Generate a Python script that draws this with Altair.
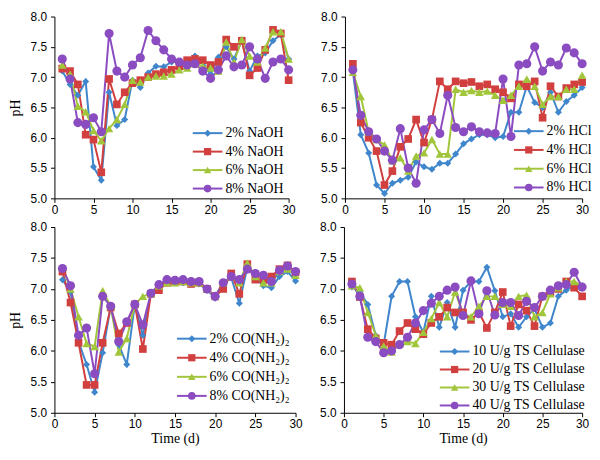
import altair as alt
import pandas as pd

days = list(range(1, 31))

# Panel 1: NaOH
naoh_names = ["2% NaOH", "4% NaOH", "6% NaOH", "8% NaOH"]
naoh_2 = [7.10, 6.88, 6.70, 6.93, 5.52, 5.30, 6.75, 6.20, 6.30, 6.95, 6.83, 7.07, 7.18, 7.17, 7.25,
          7.25, 7.25, 7.35, 7.25, 7.05, 7.33, 7.50, 7.30, 7.60, 7.10, 7.35, 7.40, 7.60, 7.70, 7.30]
naoh_4 = [7.14, 7.10, 6.88, 6.05, 5.97, 5.43, 6.97, 6.55, 6.75, 6.90, 6.95, 7.00, 7.05, 7.08, 7.12,
          7.18, 7.28, 7.30, 7.28, 7.20, 7.25, 7.62, 7.50, 7.60, 7.03, 7.15, 7.45, 7.78, 7.72, 6.95]
naoh_6 = [7.20, 7.05, 6.52, 6.43, 6.12, 5.95, 6.15, 6.30, 6.55, 6.95, 6.92, 7.00, 7.02, 7.02, 7.05,
          7.12, 7.15, 7.22, 7.18, 7.15, 7.10, 7.58, 7.25, 7.62, 7.35, 7.25, 7.48, 7.75, 7.75, 7.30]
naoh_8 = [7.30, 6.97, 6.25, 6.22, 6.33, 6.10, 7.72, 7.10, 7.00, 7.20, 7.32, 7.77, 7.60, 7.45, 7.30,
          7.25, 7.20, 7.22, 7.10, 6.98, 7.12, 7.35, 7.17, 7.20, 7.50, 7.30, 6.98, 7.25, 7.30, 7.12]

# Panel 2: HCl
hcl_names = ["2% HCl", "4% HCl", "6% HCl", "8% HCl"]
hcl_2 = [7.10, 6.05, 5.75, 5.22, 5.08, 5.25, 5.30, 5.35, 5.60, 5.52, 5.48, 5.58, 5.58, 5.73, 5.90,
         5.98, 6.05, 6.05, 6.00, 6.02, 6.42, 6.42, 6.85, 6.58, 6.50, 6.75, 6.42, 6.60, 6.70, 6.83]
hcl_4 = [7.22, 6.25, 6.00, 5.78, 5.22, 5.45, 5.85, 5.98, 6.30, 5.92, 6.30, 6.93, 6.80, 6.93, 6.90,
         6.92, 6.85, 6.88, 6.80, 6.75, 6.65, 6.88, 6.85, 6.93, 6.33, 6.85, 6.68, 6.82, 6.88, 6.92]
hcl_6 = [7.08, 6.68, 6.10, 5.97, 5.88, 5.62, 5.67, 5.45, 5.70, 5.75, 5.97, 5.73, 5.73, 6.80, 6.75,
         6.78, 6.75, 6.77, 6.70, 6.62, 6.70, 6.85, 6.97, 6.85, 6.55, 6.68, 6.68, 6.80, 6.80, 7.03]
hcl_8 = [7.12, 6.37, 6.10, 5.98, 5.78, 5.63, 6.15, 5.50, 5.25, 6.13, 6.30, 6.07, 6.70, 6.17, 6.10,
         6.18, 6.10, 6.08, 6.07, 6.97, 6.02, 7.20, 7.22, 7.50, 7.10, 7.25, 7.20, 7.48, 7.40, 7.22]

# Panel 3: urea
urea_names = ["2% CO(NH₂)₂", "4% CO(NH₂)₂", "6% CO(NH₂)₂", "8% CO(NH₂)₂"]
urea_2 = [7.15, 6.95, 6.15, 5.78, 5.33, 5.97, 6.72, 6.10, 5.78, 6.75, 6.25, 6.92, 7.05, 7.10, 7.10,
          7.10, 7.08, 7.08, 6.98, 6.85, 7.08, 7.18, 6.77, 7.35, 7.18, 7.05, 7.02, 7.20, 7.28, 7.13]
urea_4 = [7.28, 6.78, 6.13, 5.45, 5.45, 6.13, 6.70, 6.28, 6.45, 6.75, 6.03, 6.92, 6.98, 7.10, 7.12,
          7.12, 7.08, 7.10, 7.00, 6.88, 7.00, 7.25, 6.92, 7.40, 7.15, 7.15, 7.20, 7.32, 7.38, 7.27]
urea_6 = [7.35, 7.00, 6.55, 6.12, 6.07, 6.97, 6.72, 5.98, 6.20, 6.75, 6.88, 6.92, 7.05, 7.10, 7.10,
          7.12, 7.10, 7.10, 7.00, 6.88, 7.10, 7.20, 7.10, 7.42, 7.20, 7.10, 7.10, 7.28, 7.32, 7.22]
urea_8 = [7.33, 7.05, 6.25, 6.37, 5.63, 6.88, 6.72, 6.15, 6.47, 6.75, 6.42, 6.93, 7.07, 7.15, 7.14,
          7.15, 7.12, 7.12, 7.00, 6.88, 7.10, 7.20, 7.15, 7.32, 7.25, 7.22, 7.12, 7.30, 7.37, 7.28]

# Panel 4: cellulase
cell_names = ["10 U/g TS Cellulase", "20 U/g TS Cellulase", "30 U/g TS Cellulase", "40 U/g TS Cellulase"]
cell_10 = [7.03, 6.95, 6.75, 6.25, 6.10, 6.88, 7.12, 7.12, 6.55, 6.30, 6.88, 6.38, 6.78, 6.38, 6.98,
           7.12, 7.12, 7.35, 6.97, 6.55, 6.60, 6.38, 6.55, 6.68, 6.38, 6.45, 6.88, 6.98, 7.05, 7.05]
cell_20 = [7.12, 6.87, 6.35, 6.20, 6.13, 6.10, 6.32, 6.45, 6.35, 6.27, 6.45, 6.55, 6.70, 6.62, 6.62,
           6.50, 6.62, 6.37, 6.62, 6.95, 6.40, 6.75, 6.65, 6.40, 6.88, 6.95, 7.00, 7.12, 7.02, 6.88]
cell_30 = [7.05, 7.02, 6.62, 6.25, 6.08, 5.98, 6.12, 6.15, 6.12, 6.30, 6.52, 6.78, 6.55, 6.95, 6.60,
           6.55, 6.72, 6.88, 6.88, 6.75, 6.72, 6.88, 6.90, 6.55, 6.62, 6.92, 7.02, 7.12, 7.12, 7.05]
cell_40 = [7.08, 6.88, 6.22, 6.15, 5.97, 6.00, 6.10, 6.22, 6.45, 6.65, 6.77, 6.88, 6.98, 7.03, 6.57,
           7.13, 6.60, 6.97, 6.58, 6.78, 6.78, 6.57, 6.80, 6.70, 6.88, 6.98, 7.05, 7.07, 7.27, 7.03]

colors = ["#3F86CC", "#D13F3F", "#A2C63B", "#8A4CC0"]
shapes = ["diamond", "square", "triangle-up", "circle"]
sizes = [50, 60, 75, 85]

x_ticks = [0, 5, 10, 15, 20, 25, 30]
y_ticks = [5.0, 5.5, 6.0, 6.5, 7.0, 7.5, 8.0]

SERIF = "Times New Roman, Liberation Serif, serif"
SANS = "Arial, Liberation Sans, sans-serif"
INDEP = dict(color="independent", shape="independent", size="independent")


def panel(names, series, width, height, lx, ly, row_h, y_title, x_title):
    rows = []
    for name, vals in zip(names, series):
        for d, v in zip(days, vals):
            rows.append({"day": d, "pH": v, "series": name})
    df = pd.DataFrame(rows)

    x_axis = alt.Axis(values=x_ticks, labelFlush=False, title=x_title if x_title else None,
                      titlePadding=2, labelPadding=2)
    y_axis = alt.Axis(values=y_ticks, format=".1f", title=y_title if y_title else None,
                      titlePadding=8, labelPadding=4, labelFlush=False)
    x = alt.X("day:Q", scale=alt.Scale(domain=[0, 30], nice=False, zero=False), axis=x_axis)
    y = alt.Y("pH:Q", scale=alt.Scale(domain=[5, 8], nice=False, zero=False), axis=y_axis)
    cscale = alt.Scale(domain=names, range=colors)
    base = alt.Chart(df)

    layers = [base.mark_line(strokeWidth=2).encode(
        x=x, y=y, color=alt.Color("series:N", scale=cscale, legend=None))]
    for name, shp, sz in zip(names, shapes, sizes):
        layers.append(
            base.transform_filter(alt.datum.series == name)
            .mark_point(filled=True, opacity=1, shape=shp, size=sz)
            .encode(x=x, y=y, color=alt.Color("series:N", scale=cscale, legend=None))
        )

    # legend: entries laid out on a point scale of the series names
    lbase = alt.Chart(pd.DataFrame({"series": names}))
    yl = alt.Y("series:N", scale=alt.Scale(type="point", domain=names, padding=0,
                                            range=[ly, ly + 3 * row_h]), axis=None)
    lcol = alt.Color("series:N", scale=cscale, legend=None)
    rule = lbase.mark_rule(strokeWidth=2).encode(
        x=alt.value(lx - 15), x2=alt.value(lx + 15), y=yl, color=lcol)
    mk = lbase.mark_point(filled=True, opacity=1).encode(
        x=alt.value(lx), y=yl, color=lcol,
        shape=alt.Shape("series:N", scale=alt.Scale(domain=names, range=shapes), legend=None),
        size=alt.Size("series:N", scale=alt.Scale(domain=names, range=sizes), legend=None))
    txt = lbase.mark_text(align="left", baseline="middle", font=SERIF, fontSize=14,
                          color="black").encode(x=alt.value(lx + 18), y=yl, text="series:N")
    return alt.layer(alt.layer(*layers), alt.layer(rule, mk, txt)).resolve_scale(
        y="independent").properties(width=width, height=height)


p1 = panel(naoh_names, [naoh_2, naoh_4, naoh_6, naoh_8], 237, 184, 155, 118, 18.7, "pH", "")
p2 = panel(hcl_names, [hcl_2, hcl_4, hcl_6, hcl_8], 240, 184, 186, 116, 19.0, "", "")
p3 = panel(urea_names, [urea_2, urea_4, urea_6, urea_8], 244, 188, 139, 113, 19.3, "pH", "Time (d)")
p4 = panel(cell_names, [cell_10, cell_20, cell_30, cell_40], 241, 188, 112, 126, 18.2, "", "Time (d)")

top = alt.hconcat(p1, p2, spacing=25).resolve_scale(**INDEP)
bottom = alt.hconcat(p3, p4, spacing=17).resolve_scale(**INDEP)
chart = alt.vconcat(top, bottom, spacing=6).resolve_scale(**INDEP).properties(
    padding={"left": 0, "top": 0, "right": 0, "bottom": 0}
).configure_view(stroke=None).configure_axis(
    grid=False, domainColor="black", tickColor="black", tickSize=4, domainWidth=1,
    labelFont=SANS, labelFontSize=12, labelColor="black",
    titleFont=SERIF, titleFontSize=14, titleFontWeight="normal", titleColor="black",
)

chart.save("out.html", embed_options={"renderer": "svg", "actions": False})
